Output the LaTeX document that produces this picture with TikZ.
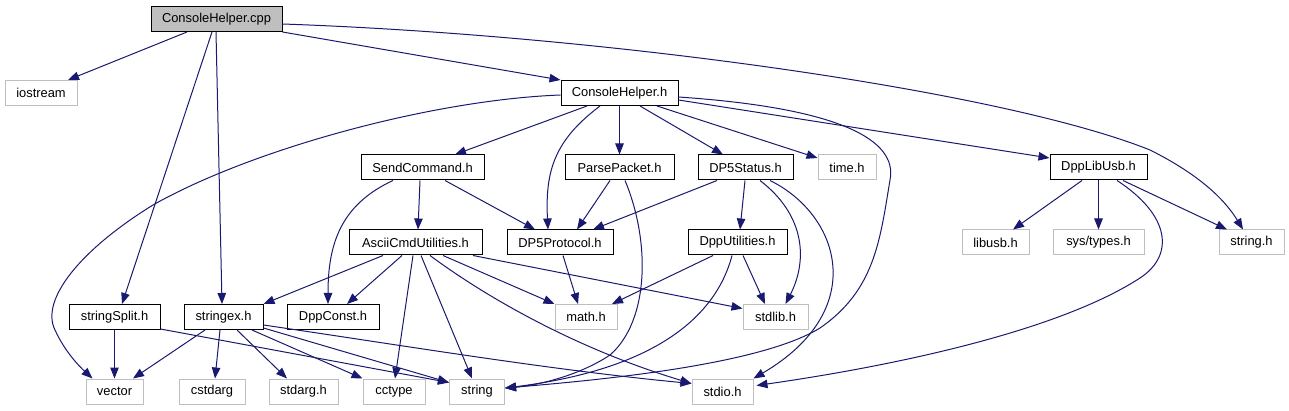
\documentclass[tikz,border=0pt]{standalone}
\usepackage{fontspec}
\setmainfont{Liberation Sans}
\usetikzlibrary{calc,arrows.meta}
\definecolor{edgeblue}{HTML}{191970}
\definecolor{extgray}{HTML}{BFBFBF}
\begin{document}
\begin{tikzpicture}[x=1pt,y=-1pt,
  every node/.style={font=\fontsize{12.9}{15}\selectfont},
  doc/.style={draw=black,line width=1pt,minimum height=25pt,inner sep=0pt,fill=white},
  ext/.style={draw=extgray,line width=1pt,minimum height=25pt,inner sep=0pt,fill=white},
  root/.style={doc,fill=extgray},
  e/.style={draw=edgeblue,line width=1pt,-{Triangle[length=11pt,width=8.5pt]}}]
\useasboundingbox (0,0) rectangle (1289,411);
% nodes
\node[root,minimum width=131pt] (cpp) at (216.5,19) {ConsoleHelper.cpp};
\node[ext,minimum width=72pt] (iostream) at (41,93) {iostream};
\node[doc,minimum width=117pt] (chh) at (619.5,93) {ConsoleHelper.h};
\node[doc,minimum width=123pt] (send) at (422.5,167.5) {SendCommand.h};
\node[doc,minimum width=109pt] (parse) at (619.5,167.5) {ParsePacket.h};
\node[doc,minimum width=95pt] (dp5s) at (745.5,167.5) {DP5Status.h};
\node[ext,minimum width=58pt] (time) at (847,167.5) {time.h};
\node[doc,minimum width=97pt] (dpplib) at (1098.5,167.5) {DppLibUsb.h};
\node[doc,minimum width=133pt] (ascii) at (415.5,242.5) {AsciiCmdUtilities.h};
\node[doc,minimum width=106pt] (dp5p) at (560,242.5) {DP5Protocol.h};
\node[doc,minimum width=99pt] (dppu) at (737.5,242.5) {DppUtilities.h};
\node[ext,minimum width=67pt] (libusb) at (995.5,242.5) {libusb.h};
\node[ext,minimum width=91pt] (systypes) at (1098.5,242.5) {sys/types.h};
\node[ext,minimum width=65pt] (stringh) at (1251.5,242.5) {string.h};
\node[doc,minimum width=91pt] (split) at (114.5,317) {stringSplit.h};
\node[doc,minimum width=79pt] (strex) at (223.5,317) {stringex.h};
\node[doc,minimum width=92pt] (dppconst) at (333,317) {DppConst.h};
\node[ext,minimum width=62pt] (math) at (586,317) {math.h};
\node[ext,minimum width=65pt] (stdlib) at (775.5,317) {stdlib.h};
\node[ext,minimum width=57pt] (vector) at (114.5,391.5) {vector};
\node[ext,minimum width=66pt] (cstdarg) at (212,391.5) {cstdarg};
\node[ext,minimum width=69pt] (stdarg) at (303.5,391.5) {stdarg.h};
\node[ext,minimum width=62pt] (cctype) at (394,391.5) {cctype};
\node[ext,minimum width=55pt] (string) at (477,391.5) {string};
\node[ext,minimum width=61pt] (stdio) at (722.5,391.5) {stdio.h};
% ConsoleHelper.cpp
\draw[e] ($(cpp.south)+(-29.5,0)$) -- ($(iostream.north)+(27,0)$);
\draw[e] (cpp.south east) -- (chh.north west);
\draw[e] ($(cpp.east)+(0,5)$) .. controls (600,35) and (1000,90) .. (1150,150) .. controls (1200,175) and (1225,200) .. ($(stringh.north)+(-8.5,0)$);
\draw[e] ($(cpp.south)+(-4.5,0)$) -- ($(split.north)+(7.5,0)$);
\draw[e] ($(cpp.south)+(-0.5,0)$) -- ($(strex.north)+(-1.5,0)$);
% ConsoleHelper.h
\draw[e] ($(chh.west)+(0,2)$) .. controls (430,100) and (250,150) .. (153,205) .. controls (80,250) and (40,300) .. (55,330) .. controls (65,352) and (80,367) .. ($(vector.north)+(-22,0)$);
\draw[e] ($(chh.south)+(-32.5,0)$) -- ($(send.north)+(32.5,0)$);
\draw[e] (chh.south) -- (parse.north);
\draw[e] ($(chh.south)+(-19.5,0)$) .. controls (555,140) and (545,170) .. ($(dp5p.north)+(-12,0)$);
\draw[e] ($(chh.south)+(20.5,0)$) -- ($(dp5s.north)+(-22.5,0)$);
\draw[e] ($(chh.south)+(37.5,0)$) -- ($(time.west)+(0,-9.5)$);
\draw[e] ($(chh.east)+(0,7)$) -- ($(dpplib.west)+(0,-9.5)$);
\draw[e] ($(chh.east)+(0,4)$) .. controls (840,108) and (898,140) .. (890,180) .. controls (880,240) and (875,290) .. (820,328) .. controls (760,365) and (600,380) .. ($(string.east)+(0,-3.5)$);
% SendCommand.h
\draw[e] ($(send.south)+(-2.5,0)$) -- ($(ascii.north)+(2.5,0)$);
\draw[e] ($(send.south)+(22.5,0)$) -- ($(dp5p.north)+(-25,0)$);
\draw[e] ($(send.south)+(-29.5,0)$) .. controls (340,205) and (328,245) .. ($(dppconst.north)+(-5,0)$);
% ParsePacket.h
\draw[e] ($(parse.south)+(-9.5,0)$) -- ($(dp5p.north)+(17,0)$);
\draw[e] ($(parse.south)+(5.5,0)$) .. controls (650,240) and (650,320) .. (610,355) .. controls (580,375) and (540,385) .. ($(string.east)+(0,-3.5)$);
% DP5Status.h
\draw[e] ($(dp5s.south)+(-28.5,0)$) -- ($(dp5p.north)+(33,0)$);
\draw[e] ($(dp5s.south)+(-0.5,0)$) -- ($(dppu.north)+(2.5,0)$);
\draw[e] ($(dp5s.south)+(14.5,0)$) .. controls (805,215) and (808,260) .. ($(stdlib.north)+(10,0)$);
\draw[e] ($(dp5s.south)+(24.5,0)$) .. controls (840,215) and (870,310) .. (stdio.north east);
% AsciiCmdUtilities.h
\draw[e] ($(ascii.south)+(-32.5,0)$) -- (strex.north east);
\draw[e] ($(ascii.south)+(-13.5,0)$) -- ($(dppconst.north)+(14,0)$);
\draw[e] ($(ascii.south)+(-2.5,0)$) -- ($(cctype.north)+(1,0)$);
\draw[e] ($(ascii.south)+(5.5,0)$) -- ($(string.north)+(-5,0)$);
\draw[e] ($(ascii.south)+(27.5,0)$) -- (math.north west);
\draw[e] ($(ascii.south)+(14.5,0)$) .. controls (490,300) and (580,350) .. ($(stdio.west)+(0,-8)$);
\draw[e] ($(ascii.south)+(57.5,0)$) -- ($(stdlib.west)+(0,-8.5)$);
% DP5Protocol.h
\draw[e] ($(dp5p.south)+(3,0)$) -- ($(math.north)+(-8,0)$);
% DppUtilities.h
\draw[e] ($(dppu.south)+(-24.5,0)$) -- ($(math.north)+(26,0)$);
\draw[e] ($(dppu.south)+(5.5,0)$) -- ($(stdlib.north)+(-10.5,0)$);
\draw[e] ($(dppu.south)+(-5.5,0)$) .. controls (715,320) and (650,370) .. ($(string.east)+(0,-3.5)$);
% DppLibUsb.h
\draw[e] ($(dpplib.south)+(-16.5,0)$) -- ($(libusb.north)+(17.5,0)$);
\draw[e] (dpplib.south) -- (systypes.north);
\draw[e] ($(dpplib.south)+(24.5,0)$) -- ($(stringh.north)+(-24.5,0)$);
\draw[e] ($(dpplib.south)+(18.5,0)$) .. controls (1170,215) and (1175,255) .. (1140,278) .. controls (1060,330) and (900,365) .. ($(stdio.east)+(3,-6)$);
% stringSplit.h
\draw[e] (split.south) -- (vector.north);
\draw[e] ($(split.south east)+(0,-1)$) -- ($(string.west)+(0,-9)$);
% stringex.h
\draw[e] ($(strex.south)+(-18.5,0)$) -- ($(vector.north)+(18.5,0)$);
\draw[e] ($(strex.south)+(-3.5,0)$) -- ($(cstdarg.north)+(3,0)$);
\draw[e] ($(strex.south)+(13.5,0)$) -- ($(stdarg.north)+(-16.5,0)$);
\draw[e] ($(strex.south)+(28.5,0)$) -- (cctype.north west);
\draw[e] ($(strex.south east)+(0,-2)$) -- ($(string.west)+(0,-9)$);
\draw[e] ($(strex.east)+(0,8)$) .. controls (400,345) and (550,370) .. ($(stdio.west)+(0,-8)$);
\end{tikzpicture}
\end{document}
